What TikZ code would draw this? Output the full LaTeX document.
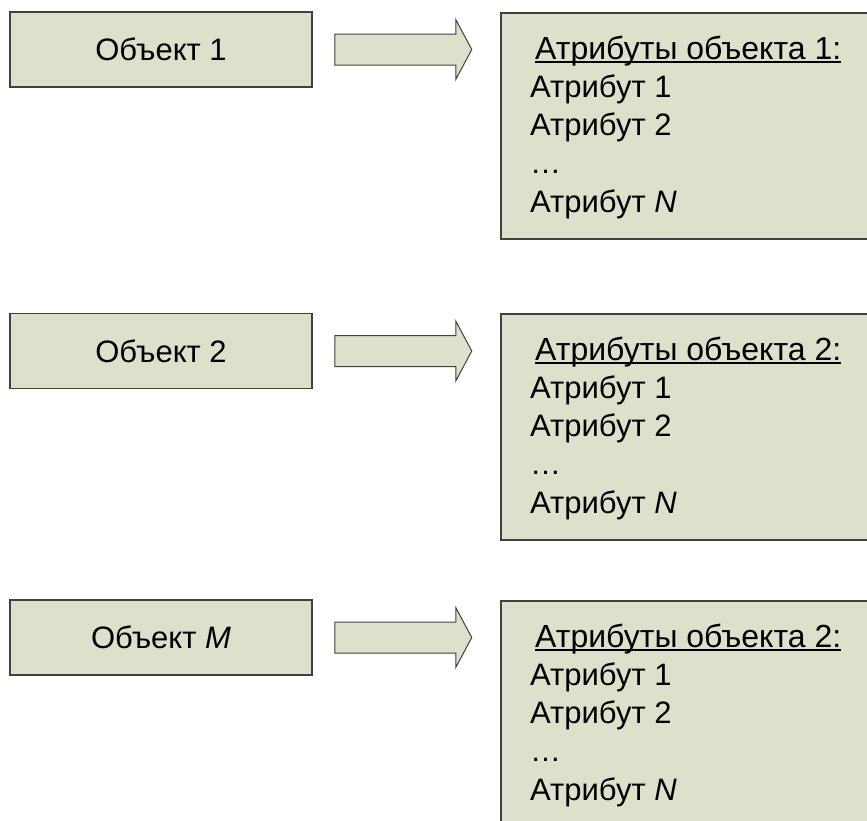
\documentclass[tikz,border=0pt]{standalone}
\usepackage{fontspec}
\setmainfont{Liberation Sans}
\usetikzlibrary{calc}
\usetikzlibrary{positioning}

\definecolor{boxfill}{RGB}{221,224,203}
\definecolor{boxline}{RGB}{64,64,64}
\newcommand{\bigfont}{\fontsize{31}{38}\selectfont}
\newcommand{\hdrfont}{\fontsize{32}{38}\selectfont}

\tikzset{
 objbox/.style={rectangle,draw=boxline,fill=boxfill,line width=1.5pt,minimum width=302pt,minimum height=75pt,inner sep=0pt,font=\bigfont},
 attrbox/.style={rectangle,draw=boxline,fill=boxfill,line width=1.5pt,minimum width=400pt,inner sep=0pt,anchor=north west},
 attrtext/.style={anchor=base west,inner sep=0pt,font=\bigfont},
 blockarrow/.style={draw=boxline,fill=boxfill,line width=1pt,line join=miter}
}

\begin{document}
\begin{tikzpicture}[x=1pt,y=-1pt]
\clip (0,0) rectangle (867,820);
\fill[white] (0,0) rectangle (867,820);

% objects
\node[objbox] (obj1) at (161,49.5) {Объект 1};
\node[objbox] (obj2) at (161,351) {Объект 2};
\node[objbox] (obj3) at (161,637.5) {Объект \textit{M}};

% attribute boxes
\node[attrbox,minimum height=226pt] (attr1) at (500,12) {};
\node[attrbox,minimum height=226pt] (attr2) at (500,313) {};
\node[attrbox,minimum height=300pt] (attr3) at (500,600) {};

% arrows
\foreach \i in {1,2,3}{
 \draw[blockarrow] ($(obj\i.east)+(22,-15.5)$) -- ++(121,0) -- ++(0,-14.5) -- ++(16,30) -- ++(-16,30) -- ++(0,-14.5) -- ++(-121,0) -- cycle;
}

% attribute lists
\foreach \i/\n in {1/1,2/2,3/2}{
 \node[attrtext,font=\hdrfont] (hdr\i) at ($(attr\i.north west)+(35,47)$) {Атрибуты объекта \n:};
 \draw[line width=1.5pt] ($(hdr\i.base west)+(0,3)$) -- ($(hdr\i.base east)+(0,3)$);
 \node[attrtext] (a\i-1) at ($(attr\i.north west)+(30,85)$) {Атрибут 1};
 \node[attrtext] (a\i-2) at ($(attr\i.north west)+(30,123)$) {Атрибут 2};
 \node[attrtext] (a\i-3) at ($(attr\i.north west)+(30,161)$) {…};
 \node[attrtext] (a\i-4) at ($(attr\i.north west)+(30,200)$) {Атрибут \textit{N}};
}

\end{tikzpicture}
\end{document}
